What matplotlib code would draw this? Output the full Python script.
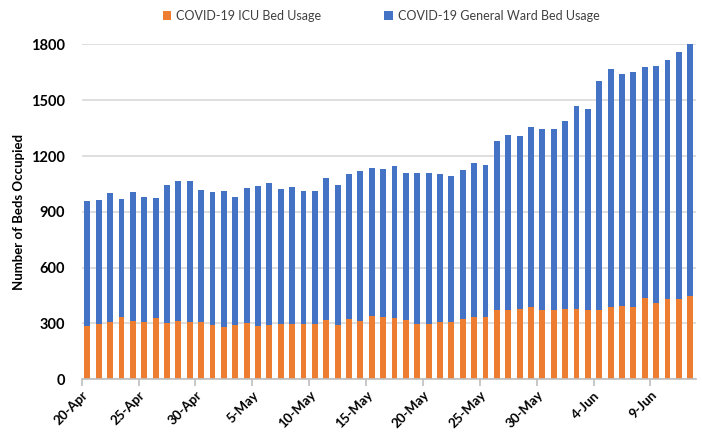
import numpy as np
import matplotlib
matplotlib.use("Agg")
import matplotlib.pyplot as plt

plt.rcParams['font.family'] = ['Lato', 'DejaVu Sans']

# daily beds occupied, 20-Apr .. 12-Jun
day_labels = ["20-Apr", "25-Apr", "30-Apr", "5-May", "10-May", "15-May",
              "20-May", "25-May", "30-May", "4-Jun", "9-Jun"]

icu = [288, 299, 308, 333, 315, 308, 328, 304, 315, 310, 310, 292, 283, 290,
       304, 287, 290, 296, 296, 299, 296, 319, 292, 326, 315, 342, 335, 328,
       319, 299, 299, 308, 308, 323, 337, 337, 374, 374, 378, 387, 374, 374,
       378, 378, 374, 374, 389, 396, 389, 437, 412, 430, 430, 449]

general = [672, 666, 694, 636, 694, 672, 649, 739, 751, 756, 709, 717, 729,
           690, 726, 752, 764, 727, 738, 713, 716, 762, 754, 778, 807, 794,
           796, 819, 790, 808, 810, 798, 785, 801, 828, 817, 909, 941, 930,
           971, 973, 972, 1009, 1091, 1079, 1231, 1279, 1245, 1263, 1240,
           1272, 1288, 1331, 1351]

orange = "#ED7D31"
blue = "#4472C4"

fig = plt.figure(figsize=(7.02, 4.32), dpi=100)
ax = fig.add_axes([0.1164, 0.122, 0.875, 0.775])

x = np.arange(len(icu))
ax.bar(x, icu, width=0.52, color=orange, label="COVID-19 ICU Bed Usage", zorder=2)
ax.bar(x, general, width=0.52, bottom=icu, color=blue,
       label="COVID-19 General Ward Bed Usage", zorder=2)

ax.set_xlim(-0.5, len(icu) - 0.5)
ax.set_ylim(0, 1800)
ax.set_yticks(range(0, 1801, 300))
ax.yaxis.grid(True, color="#D9D9D9", linewidth=1.2, zorder=0)
ax.set_axisbelow(True)

for s in ["top", "right", "left"]:
    ax.spines[s].set_visible(False)
ax.spines["bottom"].set_color("#BFBFBF")
ax.spines["bottom"].set_linewidth(1.2)

# tick marks between categories, labels every 5 days
tick_pos = np.arange(0, len(icu), 5) - 0.5
ax.set_xticks(tick_pos)
ax.set_xticklabels(day_labels, rotation=45, ha="right", rotation_mode="anchor",
                   fontweight="bold", fontsize=9.5)
ax.tick_params(axis="x", length=5, color="#BFBFBF", width=1.2, pad=2)
ax.tick_params(axis="y", length=0, pad=12, labelsize=10.5)
for t in ax.get_yticklabels():
    t.set_fontweight("bold")

ax.set_ylabel("Number of Beds Occupied", fontsize=9.5, fontweight="bold", labelpad=4)

fig.legend(loc="center", bbox_to_anchor=(0.543, 0.963), ncol=2, frameon=False,
           fontsize=9, handlelength=0.7, handleheight=0.7, handletextpad=0.4,
           columnspacing=5.0, labelcolor="#404040")

fig.savefig("out.png", dpi=100)
